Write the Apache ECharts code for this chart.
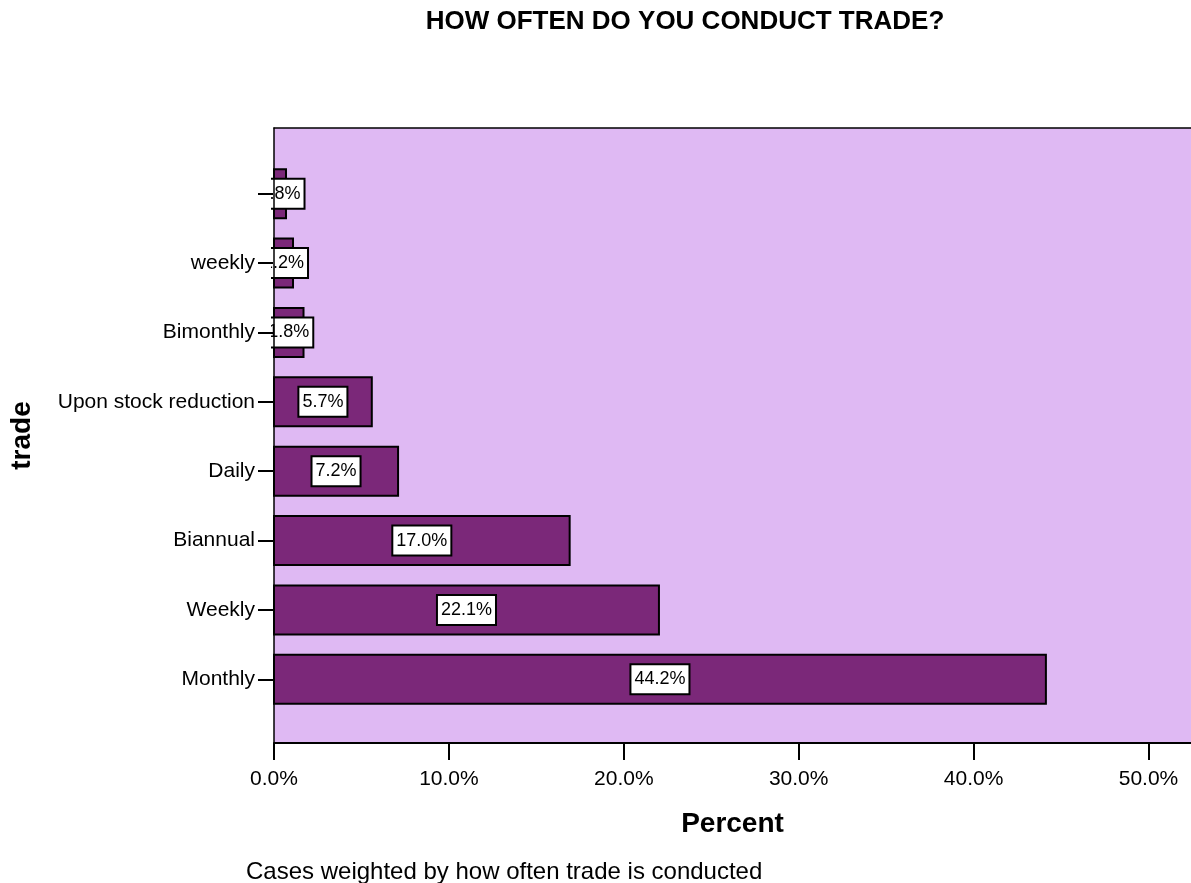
<!DOCTYPE html>
<html>
<head>
<meta charset="utf-8">
<script src="https://cdn.jsdelivr.net/npm/echarts@6/dist/echarts.min.js"></script>
<style>
  html, body { margin: 0; padding: 0; background: #fff; }
  #chart { width: 1191px; height: 883px; }
</style>
</head>
<body>
<div id="chart"></div>
<script>
// Data (bottom to top, as drawn)
var categories = ['Monthly', 'Weekly', 'Biannual', 'Daily', 'Upon stock reduction', 'Bimonthly', 'weekly', ''];
var percents = [44.2, 22.1, 17.0, 7.2, 5.7, 1.8, 1.2, 0.8];
var xTickValues = [0, 10, 20, 30, 40, 50];
var titleText = 'HOW OFTEN DO YOU CONDUCT TRADE?';
var xName = 'Percent';
var yName = 'trade';
var footnote = 'Cases weighted by how often trade is conducted';

var FONT = '"Liberation Sans", Arial, Helvetica, sans-serif';
var PLOT_LEFT = 273, PLOT_WIDTH = 918;
var X_MAX = 52.43;

var chart = echarts.init(document.getElementById('chart'), null, { renderer: 'canvas' });

var option = {
  animation: false,
  backgroundColor: '#ffffff',
  textStyle: { fontFamily: FONT },
  title: {
    text: titleText,
    left: 685,
    top: 9,
    padding: 0,
    textAlign: 'center',
    textStyle: { fontFamily: FONT, fontSize: 26, fontWeight: 'bold', color: '#000' }
  },
  grid: [
    { // background plot frame
      left: PLOT_LEFT, width: PLOT_WIDTH, top: 128, height: 615,
      show: true, backgroundColor: '#dfb9f3', borderWidth: 0,
      containLabel: false
    },
    { // bar band area
      left: PLOT_LEFT, width: PLOT_WIDTH, top: 159, height: 555,
      show: false, containLabel: false
    }
  ],
  xAxis: [
    {
      gridIndex: 0, type: 'value', min: 0, max: X_MAX, interval: 10, z: 10,
      name: xName, nameLocation: 'middle', nameGap: 67,
      nameTextStyle: { fontFamily: FONT, fontSize: 28, fontWeight: 'bold', color: '#000' },
      axisLine: { show: true, lineStyle: { color: '#000', width: 2 } },
      axisTick: { show: true, length: 17, lineStyle: { color: '#000', width: 2 } },
      axisLabel: {
        show: true, margin: 26, fontSize: 21, color: '#000', fontFamily: FONT,
        showMaxLabel: false,
        formatter: function (v) {
          return xTickValues.indexOf(v) >= 0 ? Number(v).toFixed(1) + '%' : '';
        }
      },
      splitLine: { show: false }
    },
    {
      gridIndex: 1, type: 'value', min: 0, max: X_MAX, show: false
    },
    { // top frame line
      gridIndex: 0, type: 'value', min: 0, max: X_MAX, position: 'top', z: 10,
      axisLine: { show: true, lineStyle: { color: '#000', width: 1.5 } },
      axisTick: { show: false }, axisLabel: { show: false }, splitLine: { show: false }
    }
  ],
  yAxis: [
    {
      gridIndex: 0, type: 'value', min: 0, max: 1, z: 10,
      name: yName, nameLocation: 'middle', nameGap: 238, nameRotate: 90,
      nameTextStyle: { fontFamily: FONT, fontSize: 28, fontWeight: 'bold', color: '#000' },
      axisLine: { show: true, lineStyle: { color: '#000', width: 1.5 } },
      axisTick: { show: false },
      axisLabel: { show: false }, splitLine: { show: false }
    },
    {
      gridIndex: 1, type: 'category', data: categories, z: 10,
      axisLine: { show: false },
      axisTick: { show: true, alignWithLabel: true, length: 15, lineStyle: { color: '#000', width: 2 } },
      axisLabel: { show: true, margin: 18, fontSize: 21, color: '#000', fontFamily: FONT },
      splitLine: { show: false }
    }
  ],
  graphic: [
    { // clips value-label overflow left of the plot frame, as in the original
      type: 'rect', z: 5,
      shape: { x: 0, y: 150, width: PLOT_LEFT - 2, height: 575 },
      style: { fill: '#ffffff' }, silent: true
    },
    {
      type: 'text', left: 246, top: 860, z: 20,
      style: { text: footnote, font: '24px ' + FONT, fill: '#000' }
    }
  ],
  series: [
    {
      type: 'bar', xAxisIndex: 1, yAxisIndex: 1, z: 2,
      data: percents,
      barWidth: 51,
      itemStyle: { color: '#7b2879', borderColor: '#000', borderWidth: 2 },
      label: {
        show: true, position: 'inside',
        formatter: function (p) { return Number(p.value).toFixed(1) + '%'; },
        fontFamily: FONT, fontSize: 18, color: '#000',
        backgroundColor: '#ffffff', borderColor: '#000', borderWidth: 2,
        padding: [6, 3, 4, 3]
      }
    }
  ]
};

chart.setOption(option);
</script>
</body>
</html>
